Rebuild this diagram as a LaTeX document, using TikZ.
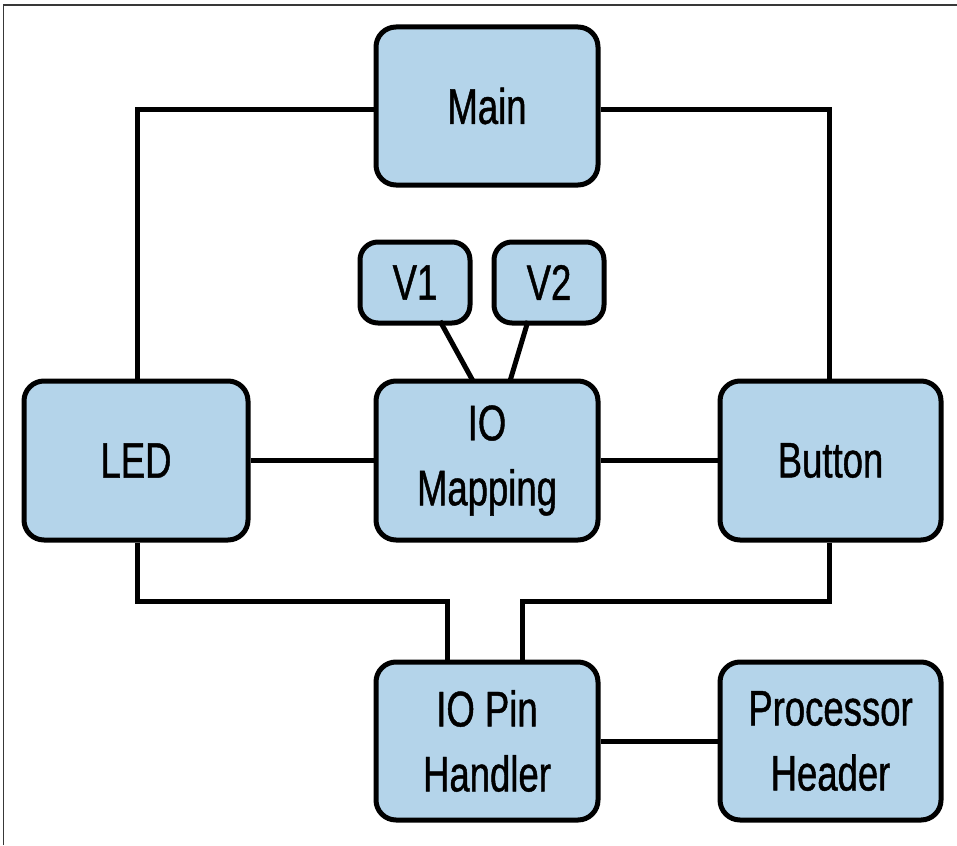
\documentclass[tikz,border=0pt]{standalone}
\usepackage{fontspec}
\setmainfont{Liberation Sans}[FakeStretch=0.73,FakeBold=0.9]
\begin{document}
\begin{tikzpicture}[x=1pt,y=-1pt,
  blk/.style={draw=black,line width=5pt,fill=boxblue,rounded corners=20pt,
    minimum width=#1,align=center,font=\fontsize{50}{65}\selectfont,inner sep=0pt},
  blk/.default=222pt,
  wire/.style={draw=black,line width=5pt}]
\definecolor{boxblue}{HTML}{B4D4EA}
\useasboundingbox (0,0) rectangle (957,845);
\draw[color=black!78,line width=1.5pt] (3.5,845) -- (3.5,5) -- (957,5);
% nodes
\node[blk, minimum height=158pt] (main) at (487,106) {Main};
\node[blk=110pt, minimum height=81pt, rounded corners=18pt] (v1) at (415,282.5) {V1};
\node[blk=110pt, minimum height=81pt, rounded corners=18pt] (v2) at (549,282.5) {V2};
\node[blk, minimum height=159pt] (io) at (487,460.5) {IO\\Mapping};
\node[blk=224pt, minimum height=159pt] (led) at (136,460.5) {LED};
\node[blk=221pt, minimum height=159pt] (btn) at (830.5,460.5) {Button};
\node[blk, minimum height=158pt] (pin) at (487,741) {IO Pin\\Handler};
\node[blk=221pt, minimum height=158pt] (proc) at (830.5,741) {Processor\\Header};
% connectors
\coordinate (a1) at (137,110);
\coordinate (a2) at (829,110);
\draw[wire] (main.west |- a1) -| (led.north -| a1);
\draw[wire] (main.east |- a2) -| (btn.north -| a2);
\draw[wire] (led.east) -- (io.west);
\draw[wire] (io.east) -- (btn.east -| btn.west);
\coordinate (b1) at (137,601);
\coordinate (b2) at (447,601);
\coordinate (c1) at (829,601);
\coordinate (c2) at (522,601);
\draw[wire] (led.south -| b1) -- (b1) -- (b2) -- (pin.north -| b2);
\draw[wire] (btn.south -| c1) -- (c1) -- (c2) -- (pin.north -| c2);
\draw[wire] (pin.east |- proc.west) -- (proc.west);
\coordinate (d1) at (440,321);
\coordinate (d2) at (473,381);
\coordinate (e1) at (528,321);
\coordinate (e2) at (510,381);
\draw[wire] (d1) -- (d2);
\draw[wire] (e1) -- (e2);
\end{tikzpicture}
\end{document}
